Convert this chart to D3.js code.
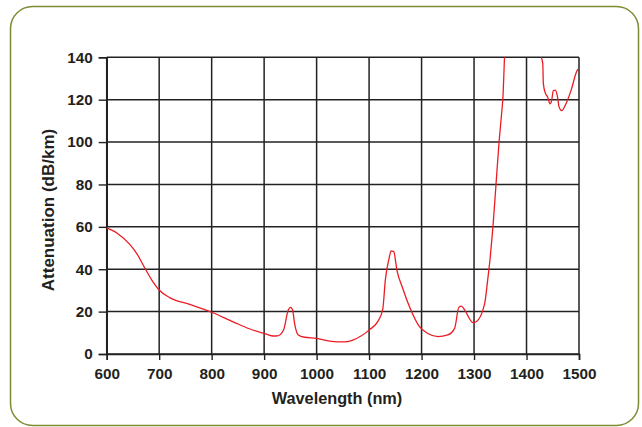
<!DOCTYPE html>
<html>
<head>
<meta charset="utf-8">
<script src="https://cdn.jsdelivr.net/npm/d3@7"></script>
<style>
  html, body { margin: 0; padding: 0; background: #fff; }
  svg { display: block; }
  text { font-family: "Liberation Sans", Arial, sans-serif; font-weight: bold; fill: #231f20; }
</style>
</head>
<body>
<svg id="chart" width="642" height="427"></svg>
<script>
// Data (null marks the part above the plot)
const wavelength = [600,620,644,657,673,686,700,720,758,800,841,873,904,917,926,937,946,950,954,958,965,977,1000,1025,1053,1069,1101,1117,1126,1131,1138,1142,1147,1153,1164,1177,1196,1212,1231,1250,1263,1271,1276,1282,1298,1304,1320,1326,1331,1336,1342,1348,1352,1355,1358,1393,1428,1431,1432,1436,1440,1445,1448,1451,1455,1459,1462,1467,1475,1485,1495,1498];
const attenuation = [59.5,57,51.7,47.5,40.4,34.9,30.2,26.6,23.4,19.7,15.2,11.8,9.4,8.5,8.6,11.3,20.8,22,21,14.5,9,7.9,7.4,6.1,5.7,6.6,11.5,15.5,21,35,45,48.7,48.3,39.6,31,22.3,12.9,9.7,8.2,9,12.1,22,22.6,20.8,14.8,15.2,23.5,35,46,60,80.5,101,112,121,140,null,140,137,127.7,123,121.4,118,119.8,124.2,124.5,121.4,116.6,114.8,118,124.5,133,134.5];
const xTicks = [600,700,800,900,1000,1100,1200,1300,1400,1500];
const yTicks = [0,20,40,60,80,100,120,140];
const xTitle = "Wavelength (nm)";
const yTitle = "Attenuation (dB/km)";

const svg = d3.select("#chart");
const pLeft = 106.7, pRight = 579, pTop = 57.3, pBottom = 354;

// Frame
svg.append("rect")
  .attr("x", 10.5).attr("y", 6.5).attr("width", 628).attr("height", 419)
  .attr("rx", 22).attr("ry", 22)
  .attr("fill", "#fff").attr("stroke", "#7d8c30").attr("stroke-width", 1.5);

const x = d3.scaleLinear().domain([600, 1500]).range([pLeft, pRight]);
const y = d3.scaleLinear().domain([0, 140]).range([pBottom, pTop]);

// Grid
const grid = svg.append("g");
grid.selectAll(".vg").data(xTicks).join("line")
  .attr("x1", d => x(d)).attr("x2", d => x(d))
  .attr("y1", y(0)).attr("y2", y(140))
  .attr("stroke", "#222").attr("stroke-width", 1.5);
grid.selectAll(".hg").data(yTicks).join("line")
  .attr("x1", x(600)).attr("x2", x(1500))
  .attr("y1", d => y(d)).attr("y2", d => y(d))
  .attr("stroke", "#222").attr("stroke-width", 1.5);

// Axes
const xAxis = svg.append("g").attr("transform", `translate(0,${pBottom})`)
  .call(d3.axisBottom(x).tickValues(xTicks).tickSize(6).tickPadding(6).tickFormat(d3.format("d")));
const yAxis = svg.append("g").attr("transform", `translate(${pLeft},0)`)
  .call(d3.axisLeft(y).tickValues(yTicks).tickSize(8).tickPadding(6).tickFormat(d3.format("d")));
[xAxis, yAxis].forEach(a => {
  a.select(".domain").attr("stroke", "#222").attr("stroke-width", 1.6);
  a.selectAll(".tick line").attr("stroke", "#222").attr("stroke-width", 1.4);
  a.selectAll(".tick text").attr("font-size", 15.3).attr("font-weight", "bold")
    .attr("font-family", "Liberation Sans, Arial, sans-serif").attr("fill", "#231f20");
});
xAxis.selectAll(".tick text").attr("dy", "0.85em");

// Titles
svg.append("text").attr("x", 337).attr("y", 403.5)
  .attr("text-anchor", "middle").attr("font-size", 16.3).text(xTitle);
svg.append("text").attr("transform", "translate(54,210) rotate(-90)")
  .attr("text-anchor", "middle").attr("font-size", 17).text(yTitle);

// Curve
const data = wavelength.map((w, i) => ({ w, v: attenuation[i] }));
const line = d3.line()
  .defined(d => d.v !== null)
  .x(d => x(d.w)).y(d => y(d.v))
  .curve(d3.curveMonotoneX);
svg.append("path").datum(data)
  .attr("d", line)
  .attr("fill", "none").attr("stroke", "#ec1c24").attr("stroke-width", 1.3);
</script>
</body>
</html>
